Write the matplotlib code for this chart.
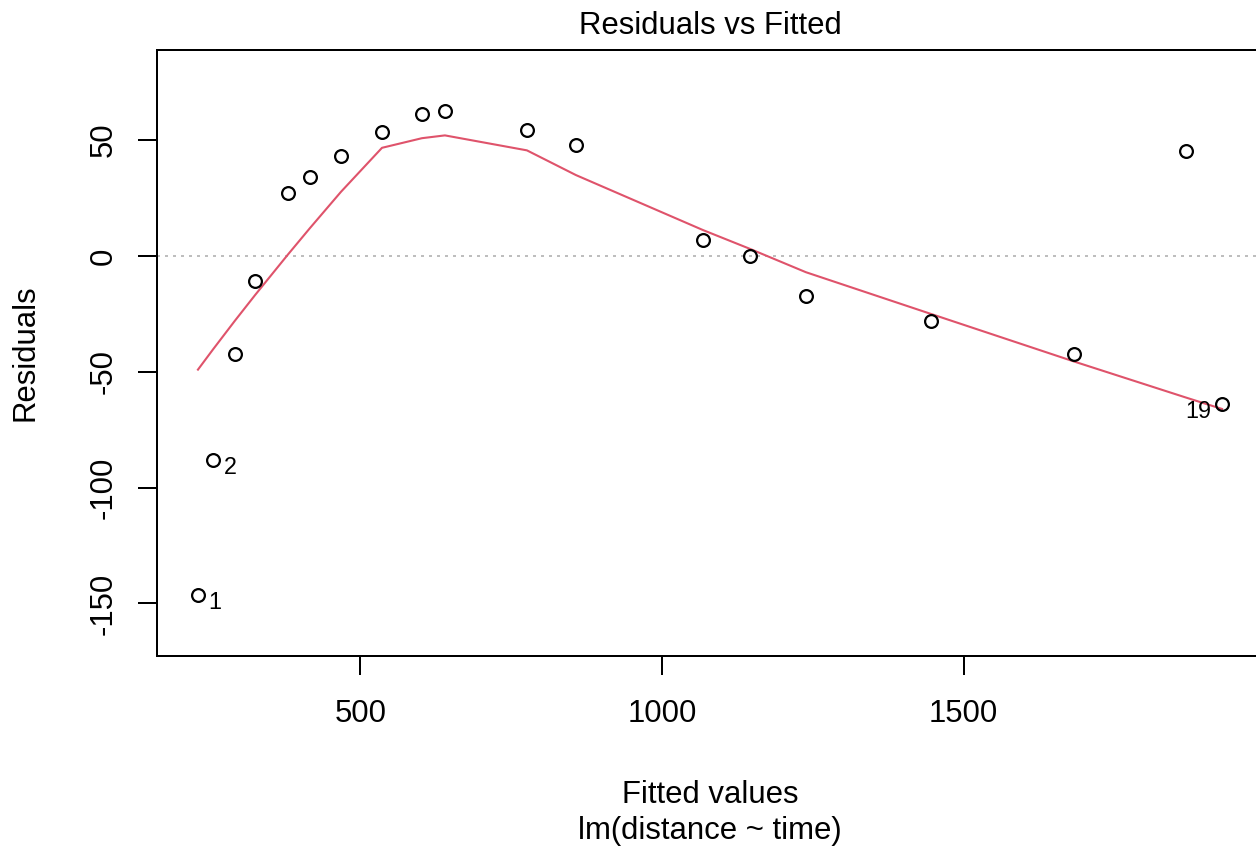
import numpy as np
import matplotlib
matplotlib.use('Agg')
import matplotlib.pyplot as plt

plt.rcParams['font.family'] = ['Liberation Sans', 'DejaVu Sans']

# fitted values and residuals of lm(distance ~ time), observation order
fitted = [231.0, 256.0, 292.4, 326.0, 380.2, 416.7, 468.0, 536.0, 602.2, 640.3,
          776.2, 857.4, 1067.9, 1145.8, 1238.6, 1445.7, 1682.6, 1868.3, 1928.3]
residuals = [-146.3, -88.1, -42.4, -10.9, 27.2, 33.9, 43.1, 53.3, 61.4, 62.5,
             54.4, 47.9, 6.8, 0.0, -17.4, -28.1, -42.3, 45.4, -63.9]
n_id = 3  # how many of the largest |residuals| get their index written

xticks = [500, 1000, 1500]
yticks = [-150, -100, -50, 0, 50]


def lowess(x, y, f=2 / 3, iters=3):
    """Port of R's clowess (delta ignored, points are well spread)."""
    x = np.asarray(x, float)
    y = np.asarray(y, float)
    order = np.argsort(x, kind='stable')
    x, y = x[order], y[order]
    n = len(x)
    ns = max(min(int(f * n + 1e-7), n), 2)
    xrange_ = x[-1] - x[0]
    rw = np.ones(n)
    ys = np.zeros(n)
    for it in range(iters + 1):
        nleft, nright = 0, ns - 1
        for i in range(n):
            xs = x[i]
            while nright < n - 1 and xs - x[nleft] > x[nright + 1] - xs:
                nleft += 1
                nright += 1
            h = max(xs - x[nleft], x[nright] - xs)
            r = np.abs(x - xs)
            w = np.zeros(n)
            inside = r <= 0.999 * h
            w[inside] = (1 - (r[inside] / h) ** 3) ** 3
            w[r <= 0.001 * h] = 1.0
            w[:nleft] = 0.0
            if it > 0:
                w *= rw
            a = w.sum()
            if a <= 0:
                ys[i] = y[i]
                continue
            w /= a
            if h > 0:
                a = (w * x).sum()
                b = xs - a
                c = (w * (x - a) ** 2).sum()
                if np.sqrt(c) > 0.001 * xrange_:
                    b /= c
                    w = w * (b * (x - a) + 1)
            ys[i] = (w * y).sum()
        if it == iters:
            break
        res = np.abs(y - ys)
        srt = np.sort(res)
        m1 = n // 2
        cmad = 6 * srt[m1] if n % 2 else 3 * (srt[m1 - 1] + srt[m1])
        if cmad < 1e-7 * res.mean():
            break
        rw = np.where(res <= 0.001 * cmad, 1.0,
                      np.where(res <= 0.999 * cmad, (1 - (res / cmad) ** 2) ** 2, 0.0))
    return x, ys


fx = np.array(fitted)
ry = np.array(residuals)

fig = plt.figure(figsize=(12.56, 8.49), dpi=100)
ax = fig.add_axes([157 / 1256, 193 / 849, 1106 / 1256, 606 / 849])

FS = 22.4
RED = '#DF536B'

ax.axhline(0, color='#BEBEBE', lw=1.44, linestyle=(0, (1.5, 2.5)), zorder=1)
ax.plot(fx, ry, 'o', ms=9.2, mfc='none', mec='black', mew=1.6, zorder=3)

sx, sy = lowess(fx, ry)
ax.plot(sx, sy, color=RED, lw=1.5, zorder=2)

# label the points with the largest absolute residuals
idx = np.argsort(-np.abs(ry))[:n_id]
mid = (fx.min() + fx.max()) / 2
for i in idx:
    if fx[i] > mid:
        ax.annotate(str(i + 1), (fx[i], ry[i]), xytext=(-7.5, -5.5),
                    textcoords='offset points', ha='right', va='center',
                    fontsize=16.8, annotation_clip=False)
    else:
        ax.annotate(str(i + 1), (fx[i], ry[i]), xytext=(7.5, -5.5),
                    textcoords='offset points', ha='left', va='center',
                    fontsize=16.8, annotation_clip=False)

# R-style limits: 8% room for labels, then the usual 4% axis padding
xspan = fx.max() - fx.min()
ax.set_xlim(fx.min() - 0.04 * xspan, fx.max() + 0.04 * xspan)
ylo, yhi = ry.min(), ry.max()
yd = yhi - ylo
ylo, yhi = ylo - 0.08 * yd, yhi + 0.08 * yd
yd = yhi - ylo
ax.set_ylim(ylo - 0.04 * yd, yhi + 0.04 * yd)

ax.set_xticks(xticks)
ax.set_yticks(yticks)
ax.set_xticklabels([str(v) for v in xticks], fontsize=FS)
ax.set_yticklabels([str(v) for v in yticks], fontsize=FS, rotation=90, va='center')
ax.tick_params(axis='x', length=13.7, width=1.44, pad=17)
ax.tick_params(axis='y', length=13.7, width=1.44, pad=14)
for sp in ax.spines.values():
    sp.set_linewidth(1.44)

cx = (157 + 1263) / 2 / 1256
fig.text(cx, 1 - 34 / 849, 'Residuals vs Fitted', ha='center', va='baseline', fontsize=FS)
fig.text(cx, 1 - 803 / 849, 'Fitted values', ha='center', va='baseline', fontsize=FS)
fig.text(cx, 1 - 839 / 849, 'lm(distance ~ time)', ha='center', va='baseline', fontsize=FS)
fig.text(33 / 1256, 1 - 353 / 849, 'Residuals', rotation=90, rotation_mode='anchor',
         ha='center', va='baseline', fontsize=FS)

fig.savefig('out.png', dpi=100)
